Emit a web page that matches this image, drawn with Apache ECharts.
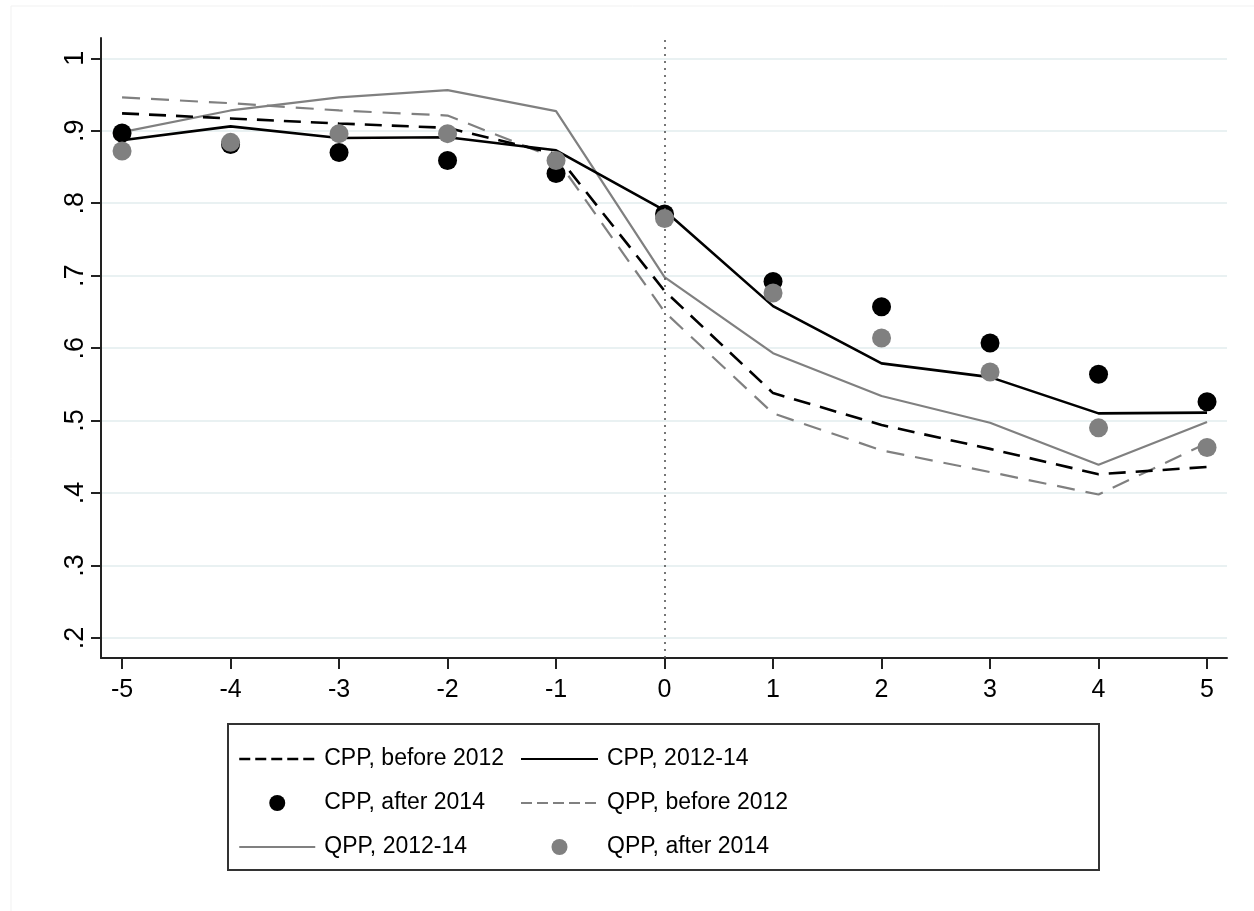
<!DOCTYPE html>
<html>
<head>
<meta charset="utf-8">
<title>CPP vs QPP</title>
<script src="https://cdn.jsdelivr.net/npm/echarts@6/dist/echarts.min.js"></script>
<style>
  html, body { margin: 0; padding: 0; background: #ffffff; }
  #chart { width: 1254px; height: 911px; }
</style>
</head>
<body>
<div id="chart"></div>
<script>
// Event time (years relative to event)
const eventTime = [-5, -4, -3, -2, -1, 0, 1, 2, 3, 4, 5];
const yTicks = [0.2, 0.3, 0.4, 0.5, 0.6, 0.7, 0.8, 0.9, 1];

// Series values
const cppBefore2012 = [0.924, 0.917, 0.910, 0.904, 0.868, 0.679, 0.538, 0.494, 0.461, 0.426, 0.436];
const cpp2012to14   = [0.887, 0.906, 0.890, 0.891, 0.873, 0.790, 0.658, 0.579, 0.560, 0.510, 0.511];
const cppAfter2014  = [0.897, 0.881, 0.870, 0.859, 0.841, 0.785, 0.692, 0.657, 0.607, 0.564, 0.526];
const qppBefore2012 = [0.946, 0.938, 0.928, 0.921, 0.862, 0.650, 0.510, 0.459, 0.429, 0.398, 0.469];
const qpp2012to14   = [0.898, 0.928, 0.946, 0.956, 0.927, 0.698, 0.593, 0.534, 0.497, 0.439, 0.498];
const qppAfter2014  = [0.872, 0.884, 0.896, 0.896, 0.859, 0.779, 0.676, 0.614, 0.567, 0.490, 0.463];

const seriesNames = [
  'CPP, before 2012', 'CPP, 2012-14', 'CPP, after 2014',
  'QPP, before 2012', 'QPP, 2012-14', 'QPP, after 2014'
];

const BLACK = '#000000';
const GREY = '#808080';
const pairs = vals => eventTime.map((t, i) => [t, vals[i]]);

const labelFont = "'Liberation Sans', Arial, sans-serif";

const chart = echarts.init(document.getElementById('chart'), null, { renderer: 'canvas' });

const legendText = { fontFamily: labelFont, fontSize: 23, color: '#000', lineHeight: 26, padding: [0, 0, 0, 4] };
// line entries in the legend show only the stroke, no marker
const noMarker = { color: 'rgba(0,0,0,0)', opacity: 0, borderWidth: 0 };

chart.setOption({
  backgroundColor: '#ffffff',
  animation: false,
  graphic: [
    // faint outer graph-region edge
    { type: 'line', shape: { x1: 11, y1: 6, x2: 1254, y2: 6 }, style: { stroke: '#f1f1f1', lineWidth: 1 }, silent: true },
    { type: 'line', shape: { x1: 11, y1: 6, x2: 11, y2: 911 }, style: { stroke: '#f1f1f1', lineWidth: 1 }, silent: true },
    // legend frame
    { type: 'rect', shape: { x: 228, y: 724, width: 871, height: 146 },
      style: { fill: 'none', stroke: '#333333', lineWidth: 2 }, silent: true }
  ],
  grid: { left: 101, right: 27, top: 38, bottom: 253, containLabel: false },
  xAxis: {
    type: 'value',
    min: -5.194,
    max: 5.184,
    axisLine: { show: true, onZero: false, lineStyle: { color: '#222', width: 2 } },
    axisTick: { show: true, length: 11, lineStyle: { color: '#222', width: 2 }, customValues: eventTime },
    axisLabel: { customValues: eventTime, fontFamily: labelFont, fontSize: 25, color: '#000', margin: 20,
                 formatter: v => String(v) },
    splitLine: { show: false }
  },
  yAxis: {
    type: 'value',
    min: 0.1724,
    max: 1.028,
    axisLine: { show: true, onZero: false, lineStyle: { color: '#222', width: 2 } },
    axisTick: { show: true, length: 10, lineStyle: { color: '#222', width: 2 }, customValues: yTicks },
    axisLabel: {
      customValues: yTicks, rotate: 90, fontFamily: labelFont, fontSize: 27, color: '#000', margin: 12,
      formatter: v => (v === 1 ? '1' : String(Math.round(v * 10) / 10).replace(/^0/, ''))
    },
    splitLine: { show: true, lineStyle: { color: '#e9f1f2', width: 2 } }
  },
  legend: [
    {
      orient: 'vertical', left: 233, top: 741, itemWidth: 76, itemHeight: 16, itemGap: 18,
      textStyle: legendText, selectedMode: false,
      data: [
        { name: seriesNames[0], itemStyle: noMarker, lineStyle: { type: [11, 5], width: 2.5 } },
        { name: seriesNames[2] },
        { name: seriesNames[4], itemStyle: noMarker }
      ]
    },
    {
      orient: 'vertical', left: 515, top: 741, itemWidth: 77, itemHeight: 16, itemGap: 18,
      textStyle: legendText, selectedMode: false,
      data: [
        { name: seriesNames[1], itemStyle: noMarker },
        { name: seriesNames[3], itemStyle: noMarker, lineStyle: { type: [11, 5], width: 2 } },
        { name: seriesNames[5] }
      ]
    }
  ],
  series: [
    {
      name: seriesNames[0], type: 'line', data: pairs(cppBefore2012), symbol: 'none', z: 3,
      lineStyle: { color: BLACK, width: 2.6, type: [17, 10] }, itemStyle: { color: BLACK },
      markLine: {
        silent: true, symbol: 'none', label: { show: false },
        lineStyle: { color: '#555', width: 1.6, type: [2, 5] },
        data: [{ xAxis: 0 }]
      }
    },
    {
      name: seriesNames[1], type: 'line', data: pairs(cpp2012to14), symbol: 'none', z: 3,
      lineStyle: { color: BLACK, width: 2.6, type: 'solid' }, itemStyle: { color: BLACK }
    },
    {
      name: seriesNames[2], type: 'scatter', data: pairs(cppAfter2014), symbol: 'circle', symbolSize: 19, z: 4,
      itemStyle: { color: BLACK, opacity: 1 }
    },
    {
      name: seriesNames[3], type: 'line', data: pairs(qppBefore2012), symbol: 'none', z: 2,
      lineStyle: { color: GREY, width: 2.2, type: [18, 11] }, itemStyle: { color: GREY }
    },
    {
      name: seriesNames[4], type: 'line', data: pairs(qpp2012to14), symbol: 'none', z: 2,
      lineStyle: { color: GREY, width: 2.2, type: 'solid' }, itemStyle: { color: GREY }
    },
    {
      name: seriesNames[5], type: 'scatter', data: pairs(qppAfter2014), symbol: 'circle', symbolSize: 19, z: 5,
      itemStyle: { color: GREY, opacity: 1 }
    }
  ]
});
</script>
</body>
</html>
